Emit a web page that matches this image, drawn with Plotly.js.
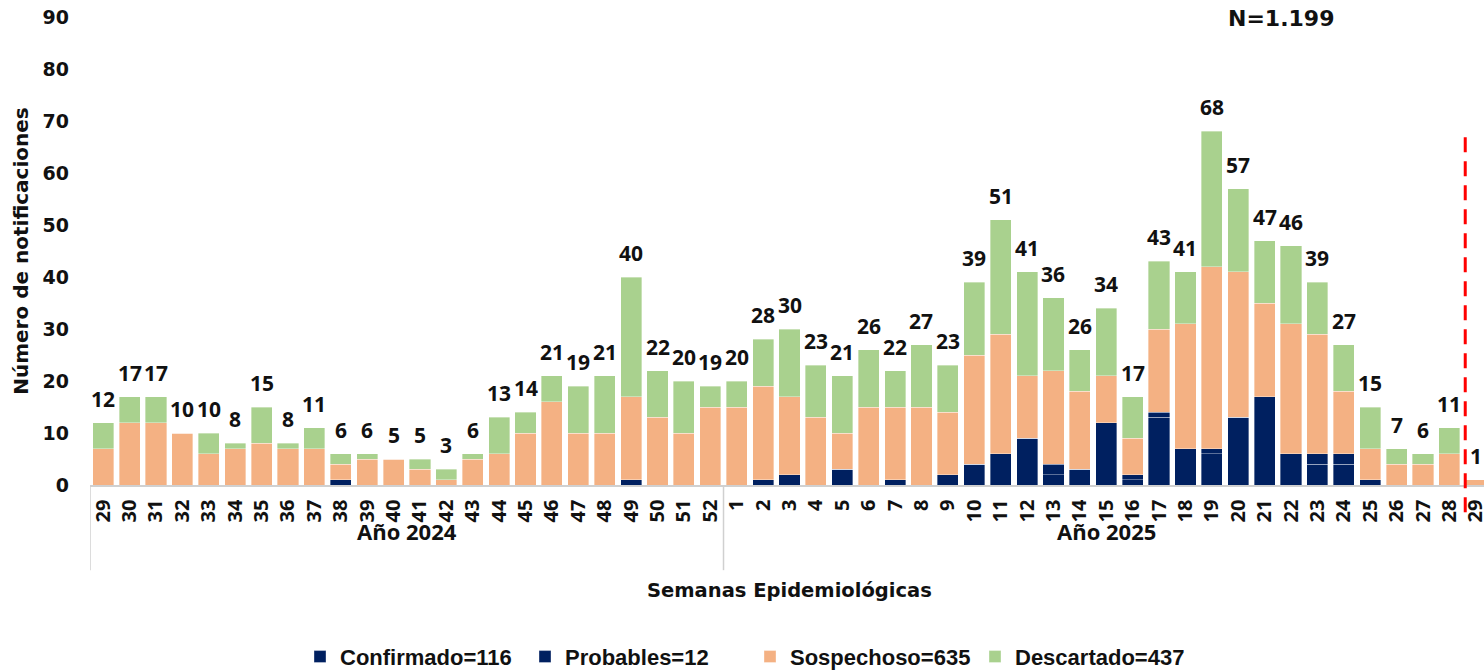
<!DOCTYPE html>
<html>
<head>
<meta charset="utf-8">
<script src="https://cdn.plot.ly/plotly-3.0.1.min.js"></script>
<style>html,body{margin:0;padding:0;background:#fff;overflow:hidden;}#chart{width:1490px;height:670px;}</style>
</head>
<body>
<div id="chart"></div>
<script>
// Epidemiological weeks (2024: 29-52, 2025: 1-29)
var weeks = [29,30,31,32,33,34,35,36,37,38,39,40,41,42,43,44,45,46,47,48,49,50,51,52,
             1,2,3,4,5,6,7,8,9,10,11,12,13,14,15,16,17,18,19,20,21,22,23,24,25,26,27,28,29];
var yearLabels = ["Año 2024", "Año 2025"];
var yearCounts = [24, 29];

var confirmado = [0,0,0,0,0,0,0,0,0,0,0,0,0,0,0,0,0,0,0,0,0,0,0,0,
                  0,1,2,0,3,0,1,0,2,4,6,9,2,3,12,1,13,7,6,13,17,6,4,4,0,0,0,0,0];
var probables  = [0,0,0,0,0,0,0,0,0,1,0,0,0,0,0,0,0,0,0,0,1,0,0,0,
                  0,0,0,0,0,0,0,0,0,0,0,0,2,0,0,1,1,0,1,0,0,0,2,2,1,0,0,0,0];
var sospechoso = [7,12,12,10,6,7,8,7,7,3,5,5,3,1,5,6,10,16,10,10,16,13,10,15,
                  15,18,15,13,7,15,14,15,12,21,23,12,18,15,9,7,16,24,35,28,18,25,23,12,6,4,4,6,1];
var descartado = [5,5,5,0,4,1,7,1,4,2,1,0,2,2,1,7,4,5,9,11,23,9,10,4,
                  5,9,13,10,11,11,7,12,9,14,22,20,14,8,13,8,13,10,26,16,12,15,10,9,8,3,2,5,0];

var seriesNames = ["Confirmado=116", "Probables=12", "Sospechoso=635", "Descartado=437"];
var seriesColors = ["#002060", "#002060", "#F4B183", "#A9D18E"];
var totalText = "N=1.199";

var WIDE = "DejaVu Sans, Verdana, sans-serif";
var NUM = "Open Sans, Liberation Sans, sans-serif";
var xs = weeks.map(function(_, i){ return i; });
var nCat = weeks.length;
var series = [confirmado, probables, sospechoso, descartado];
var traces = series.map(function(vals, k){
  return {
    type: "bar", x: xs, y: vals, name: seriesNames[k],
    marker: {color: seriesColors[k], line: {color: "rgba(255,255,255,0.45)", width: 0.8}},
    hoverinfo: "skip"
  };
});
var totals = xs.map(function(i){ return confirmado[i]+probables[i]+sospechoso[i]+descartado[i]; });

var annotations = xs.map(function(i){
  return {x: i, y: totals[i], xref: "x", yref: "y", text: String(totals[i]), showarrow: false,
          xanchor: "center", yanchor: "bottom", yshift: 8,
          font: {family: NUM, size: 21, color: "#111", weight: 700}};
});
// year group labels (x range is [-0.5, nCat-0.5], so paper x = (index+0.5)/nCat)
var start = 0;
yearLabels.forEach(function(lbl, k){
  var c = start + (yearCounts[k]-1)/2;
  annotations.push({x: (c+0.5)/nCat, y: 0, xref: "paper", yref: "paper", yshift: -29, text: lbl, showarrow: false,
    xanchor: "center", yanchor: "top", font: {family: NUM, size: 22, color: "#111", weight: 700}});
  start += yearCounts[k];
});
annotations.push({x: 0.5, y: -0.2244, xref: "paper", yref: "paper", text: "Semanas Epidemiológicas",
  showarrow: false, xanchor: "center", yanchor: "middle", font: {family: WIDE, size: 19.5, color: "#111", weight: 700}});
annotations.push({x: (1281-90)/1399, y: 0.996, xref: "paper", yref: "paper", text: totalText, showarrow: false,
  xanchor: "center", yanchor: "middle", font: {family: WIDE, size: 22, color: "#111", weight: 700}});

var shapes = [
  {type: "line", xref: "x", yref: "paper", x0: -0.5, x1: -0.5, y0: 0, y1: -0.182, line: {color: "#d0d0d0", width: 1.5}},
  {type: "line", xref: "x", yref: "paper", x0: yearCounts[0]-0.5, x1: yearCounts[0]-0.5, y0: 0, y1: -0.182, line: {color: "#d0d0d0", width: 1.5}},
  {type: "line", xref: "x", yref: "paper", x0: 51.6, x1: 51.6, y0: 0.743, y1: -0.07, line: {color: "#FF0000", width: 3, dash: "15px,9px"}}
];

var layout = {
  width: 1490, height: 670,
  margin: {l: 90, r: 1, t: 17, b: 185, autoexpand: false},
  paper_bgcolor: "#fff", plot_bgcolor: "#fff",
  barmode: "stack", bargap: 0.2,
  showlegend: true,
  legend: {orientation: "h", x: (300-90)/1399, xanchor: "left", y: -0.367, yanchor: "middle",
           traceorder: "normal", itemclick: false, itemwidth: 30, entrywidth: 180, entrywidthmode: "pixels",
           font: {family: "Liberation Sans Narrow, Arial Narrow, Liberation Sans, sans-serif", size: 22, color: "#111", weight: 700}},
  xaxis: {range: [-0.5, nCat-0.5], tickmode: "array", tickvals: xs, ticktext: weeks.map(String),
          tickangle: -90, showgrid: false, zeroline: false, showline: true, linecolor: "#d0d0d0", linewidth: 1.5,
          ticks: "", ticklabelstandoff: 5, automargin: false,
          tickfont: {family: NUM, size: 20, color: "#111", weight: 700}},
  yaxis: {range: [0, 90], dtick: 10, tick0: 0, showgrid: false, zeroline: false, showline: false,
          ticks: "", ticklabelstandoff: 20, automargin: false,
          tickfont: {family: WIDE, size: 19, color: "#111", weight: 700},
          title: {text: "Número de notificaciones", standoff: 8, font: {family: WIDE, size: 20, color: "#111", weight: 700}}},
  annotations: annotations,
  shapes: shapes
};

Plotly.newPlot("chart", traces, layout, {staticPlot: true, displayModeBar: false});
</script>
</body>
</html>
